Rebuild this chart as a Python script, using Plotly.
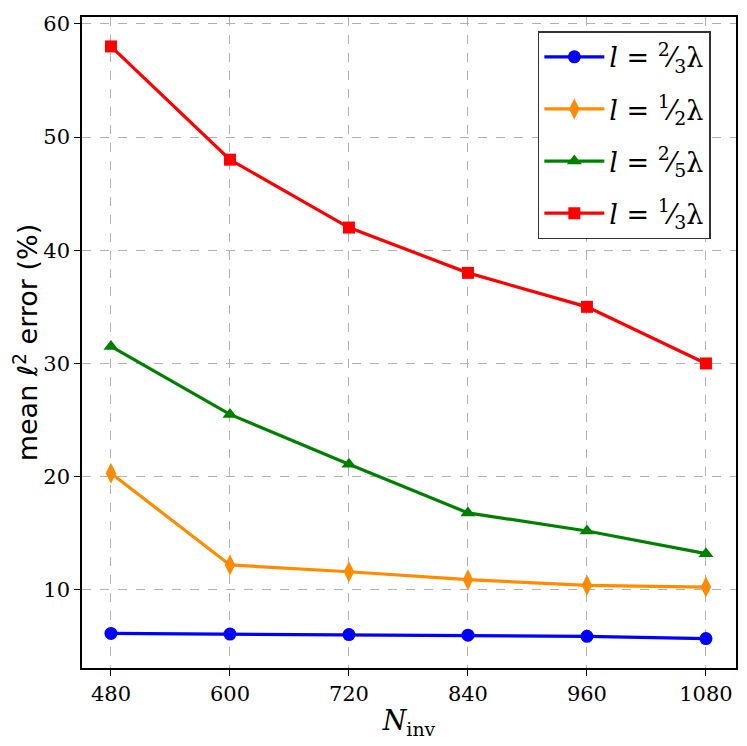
import plotly.graph_objects as go

n_inv = [480, 600, 720, 840, 960, 1080]
err_2_3 = [6.15, 6.1, 6.05, 6.0, 5.9, 5.7]
err_1_2 = [20.3, 12.2, 11.6, 10.9, 10.4, 10.25]
err_2_5 = [31.5, 25.5, 21.1, 16.8, 15.2, 13.2]
err_1_3 = [58.0, 48.0, 42.0, 38.0, 35.0, 30.0]

names = ["<i>l</i> = <sup>2</sup>⁄<sub>3</sub>λ",
         "<i>l</i> = <sup>1</sup>⁄<sub>2</sub>λ",
         "<i>l</i> = <sup>2</sup>⁄<sub>5</sub>λ",
         "<i>l</i> = <sup>1</sup>⁄<sub>3</sub>λ"]
series = [err_2_3, err_1_2, err_2_5, err_1_3]
colors = ["#0000ff", "#ff8c00", "#008000", "#ff0000"]
symbols = ["circle", "diamond-tall", "triangle-up", "square"]
sizes = [13, 15, 13, 12]

fig = go.Figure()
for i, (nm, ys, c, s, sz) in enumerate(zip(names, series, colors, symbols, sizes)):
    fig.add_trace(go.Scatter(x=n_inv, y=ys, name=nm, mode="lines+markers",
                             legendgroup=f"g{i}",
                             line=dict(color=c, width=3.2),
                             marker=dict(color=c, symbol=s, size=sz, line=dict(width=0))))

serif = "DejaVu Serif, serif"
grid = dict(showgrid=True, gridcolor="#b0b0b0", griddash="dash", gridwidth=1,
            showline=True, linecolor="black", linewidth=1.5, mirror=True,
            ticks="outside", ticklen=6, tickcolor="black", zeroline=False,
            tickfont=dict(family=serif, size=21, color="black"))

fig.update_layout(
    width=739, height=738,
    margin=dict(l=74, r=11, t=4, b=78),
    paper_bgcolor="white", plot_bgcolor="white",
    xaxis=dict(range=[450.8, 1110.3], tickvals=n_inv, ticktext=[str(v) for v in n_inv],
               title=dict(text="<i>N</i><sub>inv</sub>", standoff=6,
                          font=dict(family=serif, size=27, color="black")),
               **grid),
    yaxis=dict(range=[3.1, 60.6], tickvals=[10, 20, 30, 40, 50, 60],
               title=dict(text="mean ℓ<sup>2</sup> error (%)", standoff=8,
                          font=dict(family="DejaVu Sans, sans-serif", size=27, color="black")),
               **grid),
    legend=dict(x=0.697, y=0.978, xanchor="left", yanchor="top",
                bgcolor="white", bordercolor="#333333", borderwidth=1.5,
                font=dict(family=serif, size=27, color="black"),
                itemwidth=60, tracegroupgap=14, traceorder="grouped"),
    showlegend=True,
)

fig.write_html("out.html")
